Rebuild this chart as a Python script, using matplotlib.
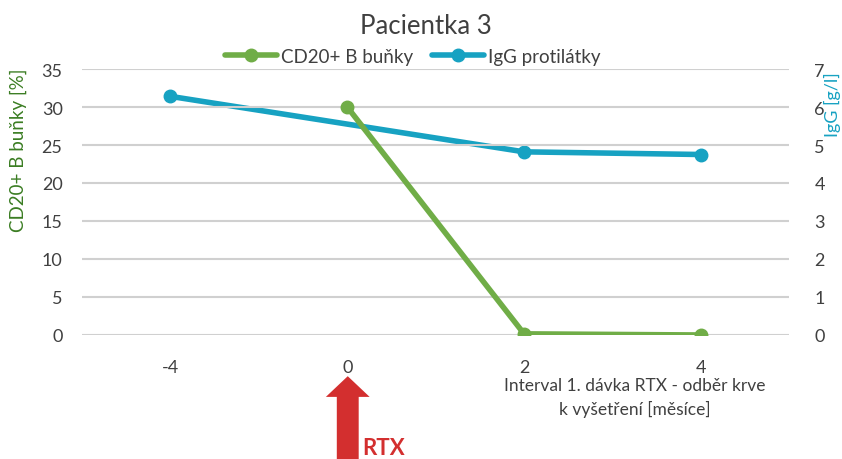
import numpy as np
import matplotlib
matplotlib.use("Agg")
import matplotlib.pyplot as plt
from matplotlib.patches import FancyArrow

plt.rcParams["font.family"] = ["Lato", "DejaVu Sans"]

# ---- data ----
categories = ["-4", "0", "2", "4"]
cd20 = [np.nan, 30.0, 0.15, 0.0]      # CD20+ B buňky [%]
igg = [6.28, np.nan, 4.82, 4.75]      # IgG [g/l]

GREEN = "#70AD47"
BLUE = "#17A2C2"
RED = "#D32F2F"
TXT = "#404040"

fig = plt.figure(figsize=(8.42, 4.6), dpi=100)
ax = fig.add_axes([0.0974, 0.2696, 0.8400, 0.5782])
ax2 = ax.twinx()

x = np.arange(len(categories))
g = np.array(cd20)
b = np.array(igg)
gm = ~np.isnan(g)
bm = ~np.isnan(b)

ax2.plot(x[bm], b[bm], color=BLUE, lw=4, marker="o", ms=9, label="IgG protilátky",
         solid_capstyle="round", zorder=3)
ax.plot(x[gm], g[gm], color=GREEN, lw=4, marker="o", ms=9, label="CD20+ B buňky",
        solid_capstyle="round", zorder=3)
ax.set_zorder(ax2.get_zorder() + 1)
ax.patch.set_visible(False)

ax.set_xlim(-0.5, 3.5)
ax.set_ylim(0, 35)
ax.set_yticks(range(0, 36, 5))
ax2.set_ylim(0, 7)
ax2.set_yticks(range(0, 8))
ax.set_xticks(x)
ax.set_xticklabels(categories)
ax.yaxis.grid(True, color="#D0D0D0", lw=1.5)
ax.set_axisbelow(True)

for a in (ax, ax2):
    for s in a.spines.values():
        s.set_visible(False)
    a.tick_params(length=0, labelsize=13, colors=TXT)
ax.tick_params(axis="y", pad=14)
ax2.tick_params(axis="y", pad=18)
ax.tick_params(axis="x", pad=17)

fig.text(0.506, 0.943, "Pacientka 3", ha="center", va="center", fontsize=18.5, color=TXT)

h1, l1 = ax.get_legend_handles_labels()
h2, l2 = ax2.get_legend_handles_labels()
fig.legend(h1 + h2, l1 + l2, loc="center", bbox_to_anchor=(0.49, 0.876), ncol=2,
           frameon=False, fontsize=13.5, handlelength=2.8, columnspacing=1.0,
           handletextpad=0.2, labelcolor=TXT, borderpad=0.2)

fig.text(0.022, 0.674, "CD20+ B buňky [%]", rotation=90, ha="center", va="center",
         fontsize=13.5, color="#3B7D23")
fig.text(0.989, 0.772, "IgG [g/l]", rotation=90, ha="center", va="center",
         fontsize=13, color=BLUE)

fig.text(0.754, 0.134, "Interval 1. dávka RTX - odběr krve\nk vyšetření [měsíce]",
         ha="center", va="center", fontsize=12.5, color=TXT, linespacing=1.5)

arrow = FancyArrow(0.413, 0.0, 0, 0.180, width=0.026, head_width=0.052,
                   head_length=0.045, length_includes_head=True,
                   transform=fig.transFigure, color=RED, lw=0)
fig.patches.append(arrow)
fig.text(0.430, 0.024, "RTX", ha="left", va="center", fontsize=16,
         fontweight="bold", color=RED)

fig.savefig("out.png", dpi=100)
